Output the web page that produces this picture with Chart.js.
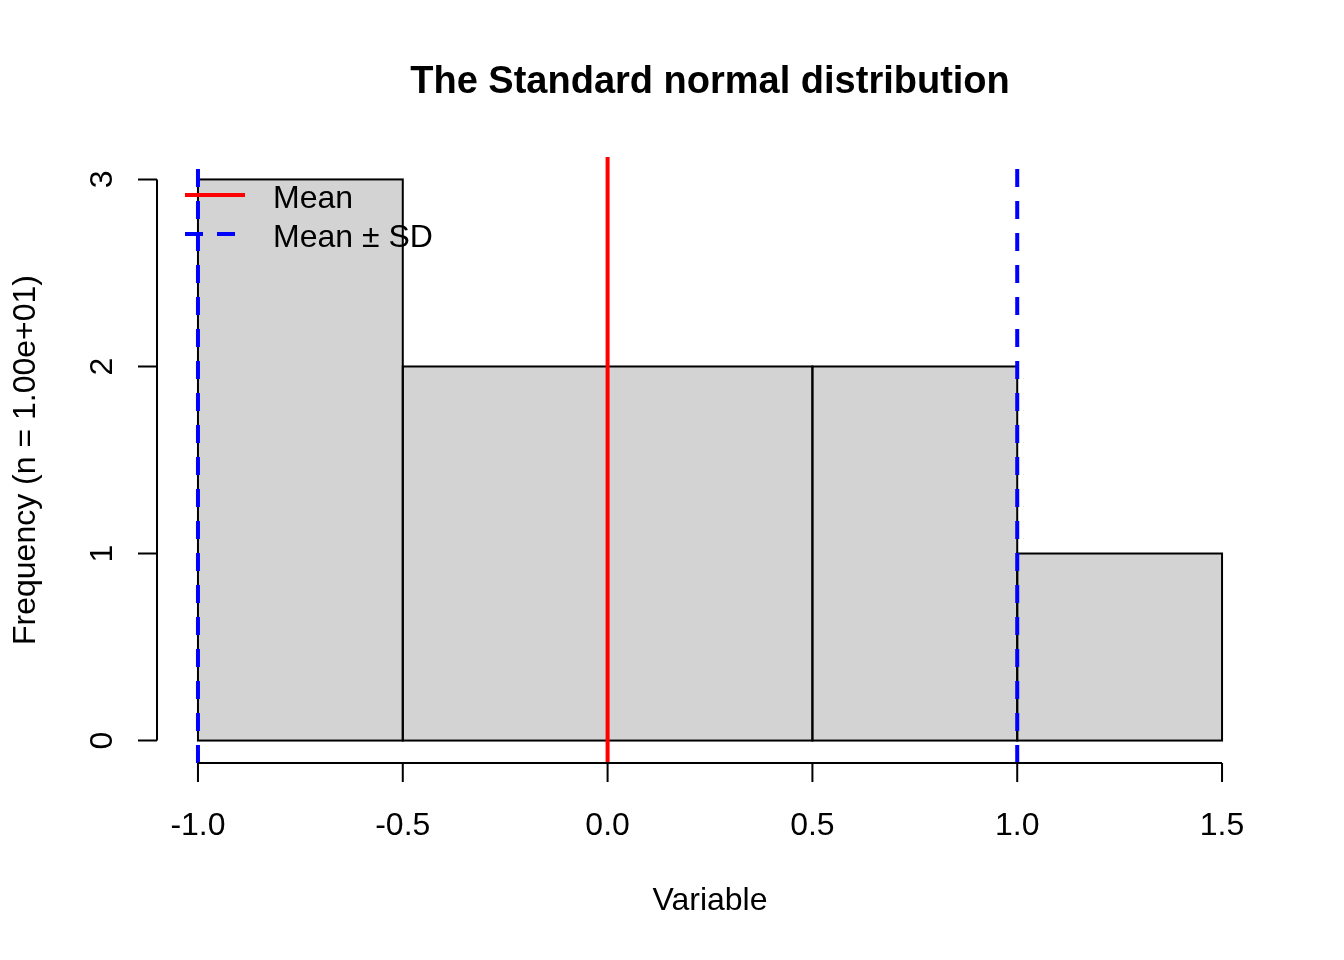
<!DOCTYPE html>
<html>
<head>
<meta charset="utf-8">
<script src="https://cdn.jsdelivr.net/npm/chart.js@4"></script>
<style>
  body { margin: 0; background: #fff; }
  #wrap { width: 1344px; height: 960px; position: relative; }
</style>
</head>
<body>
<div id="wrap"><canvas id="histChart"></canvas></div>
<script>
// histogram bins (midpoints) and counts
const binMids = [-0.75, -0.25, 0.25, 0.75, 1.25];
const counts = [3, 2, 2, 2, 1];
const xTicks = [-1.0, -0.5, 0.0, 0.5, 1.0, 1.5];
const yTicks = [0, 1, 2, 3];
const meanValue = 0;
const sdValue = 1;

const FONT = '"Liberation Sans", Arial, sans-serif';

// vertical line from bottom to top of plot region
const vline = (x) => [{ x: x, y: -0.12 }, { x: x, y: 3.12 }];

// outline the bars like R's rect() (stroke centred on the edge)
const barOutline = {
  id: 'barOutline',
  afterDatasetDraw(chart, args) {
    if (args.meta.type !== 'bar') return;
    const ctx = chart.ctx;
    ctx.save();
    ctx.strokeStyle = '#000';
    ctx.lineWidth = 2;
    args.meta.data.forEach(el => {
      ctx.strokeRect(el.x - el.width / 2, el.y, el.width, el.base - el.y);
    });
    ctx.restore();
  }
};

// R style axes, titles and legend
const baseAxes = {
  id: 'baseAxes',
  afterDraw(chart) {
    const ctx = chart.ctx;
    const xs = chart.scales.x, ys = chart.scales.y;
    const area = chart.chartArea;
    ctx.save();
    ctx.strokeStyle = '#000';
    ctx.fillStyle = '#000';
    ctx.lineWidth = 2;

    // x axis
    const xb = area.bottom;
    ctx.beginPath();
    ctx.moveTo(xs.getPixelForValue(xTicks[0]), xb);
    ctx.lineTo(xs.getPixelForValue(xTicks[xTicks.length - 1]), xb);
    xTicks.forEach(t => {
      const px = xs.getPixelForValue(t);
      ctx.moveTo(px, xb);
      ctx.lineTo(px, xb + 19);
    });
    ctx.stroke();
    ctx.font = '32px ' + FONT;
    ctx.textAlign = 'center';
    ctx.textBaseline = 'alphabetic';
    xTicks.forEach(t => {
      ctx.fillText(t.toFixed(1), xs.getPixelForValue(t), xb + 72);
    });

    // y axis
    const yl = area.left;
    ctx.beginPath();
    ctx.moveTo(yl, ys.getPixelForValue(yTicks[0]));
    ctx.lineTo(yl, ys.getPixelForValue(yTicks[yTicks.length - 1]));
    yTicks.forEach(t => {
      const py = ys.getPixelForValue(t);
      ctx.moveTo(yl, py);
      ctx.lineTo(yl - 19, py);
    });
    ctx.stroke();
    yTicks.forEach(t => {
      ctx.save();
      ctx.translate(yl - 45, ys.getPixelForValue(t));
      ctx.rotate(-Math.PI / 2);
      ctx.fillText(String(t), 0, 0);
      ctx.restore();
    });

    // axis titles
    const cx = (area.left + area.right) / 2;
    const cy = (area.top + area.bottom) / 2;
    ctx.fillText('Variable', cx, 910);
    ctx.save();
    ctx.translate(35, cy);
    ctx.rotate(-Math.PI / 2);
    ctx.fillText('Frequency (n = 1.00e+01)', 0, 0);
    ctx.restore();

    // main title
    ctx.font = 'bold 38px ' + FONT;
    ctx.fillText('The Standard normal distribution', cx, 93);

    // legend (topleft, no box)
    ctx.lineWidth = 4;
    ctx.strokeStyle = '#FF0000';
    ctx.beginPath();
    ctx.moveTo(area.left + 28, area.top + 38);
    ctx.lineTo(area.left + 88, area.top + 38);
    ctx.stroke();
    ctx.strokeStyle = '#0000FF';
    ctx.setLineDash([18, 14]);
    ctx.beginPath();
    ctx.moveTo(area.left + 28, area.top + 77);
    ctx.lineTo(area.left + 88, area.top + 77);
    ctx.stroke();
    ctx.setLineDash([]);
    ctx.font = '32px ' + FONT;
    ctx.textAlign = 'left';
    ctx.fillStyle = '#000';
    ctx.fillText('Mean', area.left + 116, area.top + 51);
    ctx.fillText('Mean \u00b1 SD', area.left + 116, area.top + 90);
    ctx.restore();
  }
};

const ctx = document.getElementById('histChart').getContext('2d');
new Chart(ctx, {
  data: {
    datasets: [
      {
        type: 'bar',
        label: 'Frequency',
        data: binMids.map((m, i) => ({ x: m, y: counts[i] })),
        backgroundColor: '#D3D3D3',
        borderWidth: 0,
        barPercentage: 1,
        categoryPercentage: 1,
        order: 2
      },
      {
        type: 'line',
        label: 'Mean',
        data: vline(meanValue),
        borderColor: '#FF0000',
        borderWidth: 4,
        pointRadius: 0,
        order: 1
      },
      {
        type: 'line',
        label: 'Mean - SD',
        data: vline(meanValue - sdValue),
        borderColor: '#0000FF',
        borderWidth: 4,
        borderDash: [18, 14],
        pointRadius: 0,
        order: 1
      },
      {
        type: 'line',
        label: 'Mean + SD',
        data: vline(meanValue + sdValue),
        borderColor: '#0000FF',
        borderWidth: 4,
        borderDash: [18, 14],
        pointRadius: 0,
        order: 1
      }
    ]
  },
  options: {
    responsive: true,
    maintainAspectRatio: false,
    animation: false,
    layout: { padding: { left: 157, right: 81, top: 157, bottom: 197 } },
    scales: {
      x: {
        type: 'linear', min: -1.1, max: 1.6, display: false, offset: false,
        grid: { offset: false },
        afterBuildTicks: (scale) => { scale.ticks = xTicks.map(v => ({ value: v })); }
      },
      y: {
        type: 'linear', min: -0.12, max: 3.12, display: false,
        afterBuildTicks: (scale) => { scale.ticks = yTicks.map(v => ({ value: v })); }
      }
    },
    plugins: {
      legend: { display: false },
      tooltip: { enabled: false },
      title: { display: false }
    }
  },
  plugins: [barOutline, baseAxes]
});
</script>
</body>
</html>
